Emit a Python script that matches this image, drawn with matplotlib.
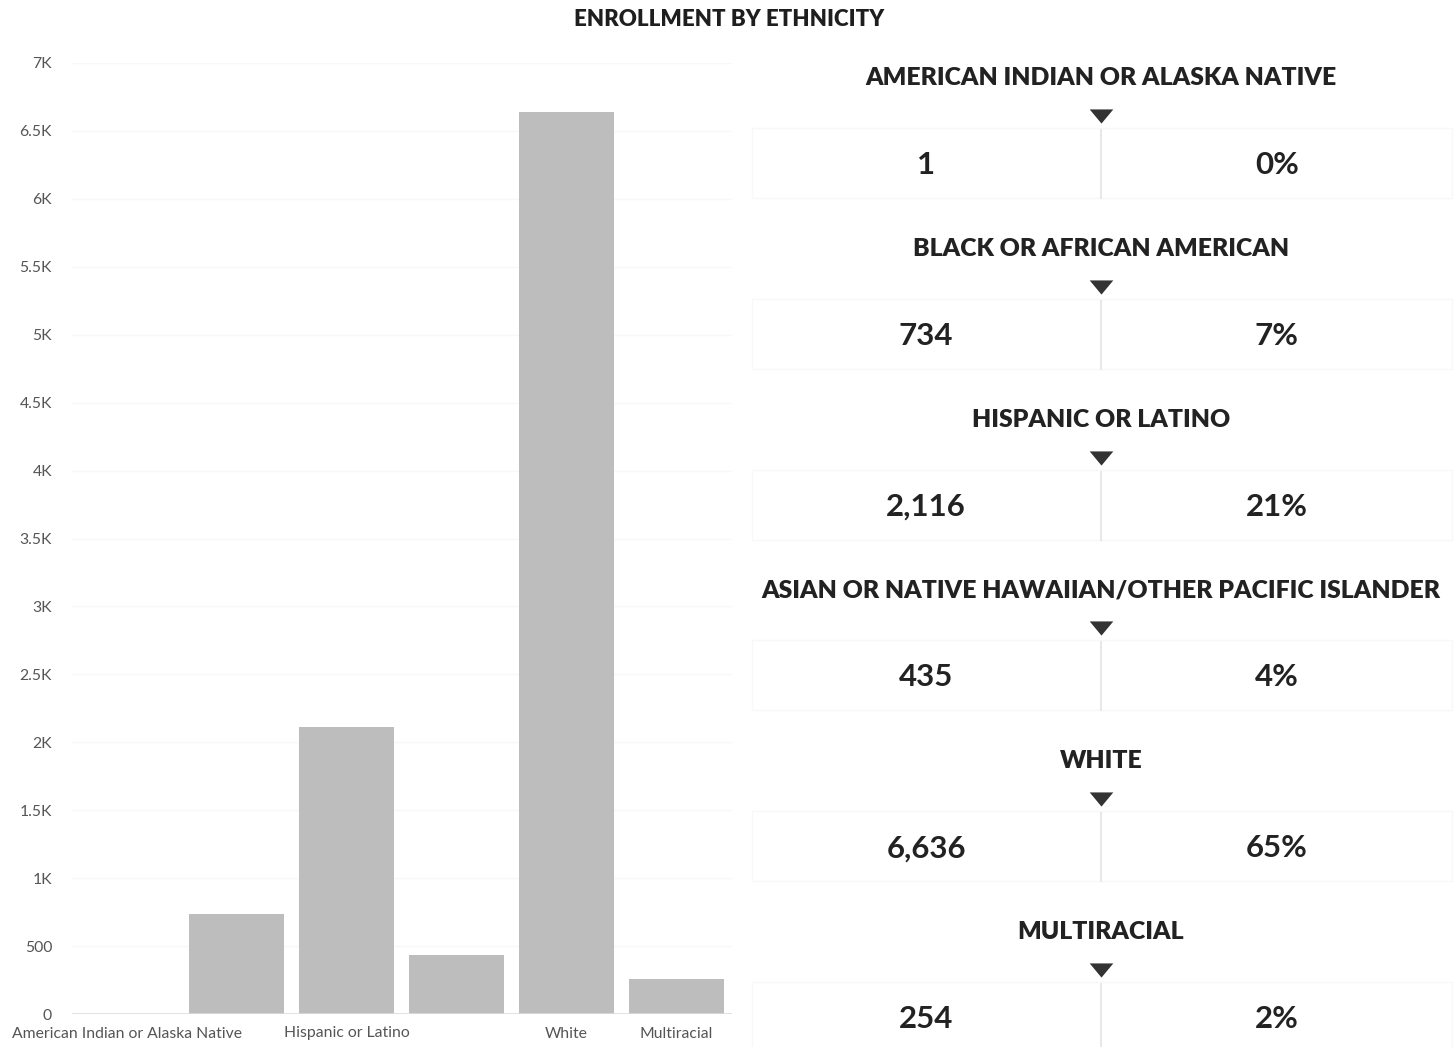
import numpy as np
import matplotlib.pyplot as plt
from matplotlib.ticker import FuncFormatter
from matplotlib.patches import Rectangle

# data
groups = ['American Indian or Alaska Native', 'Black or African American', 'Hispanic or Latino',
          'Asian or Native Hawaiian/Other Pacific Islander', 'White', 'Multiracial']
enrollment = [1, 734, 2116, 435, 6636, 254]
shown_labels = [0, 2, 4, 5]  # the others are hidden in the original (no room)

plt.rcParams['font.family'] = ['Lato', 'DejaVu Sans']

W, H = 1455, 1047
fig = plt.figure(figsize=(W / 100, H / 100), dpi=100)

# --- left: bar chart ---
ax = fig.add_axes([71.5 / W, 33 / H, 660 / W, 951 / H])
x = np.arange(len(groups))
ax.bar(x, enrollment, width=0.865, color='#bdbdbd', zorder=2)
ax.set_xlim(-0.5, len(groups) - 0.5)
ax.set_ylim(0, 7000)
ax.set_yticks(np.arange(0, 7001, 500))
ax.yaxis.set_major_formatter(FuncFormatter(
    lambda v, p: '0' if v == 0 else ('%gK' % (v / 1000) if v >= 1000 else '%d' % v)))
ax.set_xticks(x[shown_labels])
ax.set_xticklabels([groups[i] for i in shown_labels])
ax.tick_params(length=0, labelsize=11.3, labelcolor='#555555')
ax.tick_params(axis='y', pad=14)
ax.tick_params(axis='x', pad=9)
for s in ax.spines.values():
    s.set_visible(False)
ax.grid(axis='y', color='#f8f8f8', lw=1, zorder=0)
ax.axhline(0, color='#dcdcdc', lw=1.2, zorder=3)

fig.text(729 / W, 1 - 20 / H, 'ENROLLMENT BY ETHNICITY', ha='center', va='center',
         fontsize=16, fontweight='heavy', color='#1e1e1e')

# --- right: summary cards ---
rx = fig.add_axes([750 / W, 0, 705 / W, 1])
rx.set_xlim(750, W)
rx.set_ylim(H, 0)
rx.axis('off')

tri = [(-1, 0.6), (1, 0.6), (0, -0.6), (-1, 0.6)]
total = sum(enrollment)
pitch = 170.8
for i, (g, n) in enumerate(zip(groups, enrollment)):
    y0 = 78 + i * pitch
    rx.text(1101, y0, g.upper(), ha='center', va='center', fontsize=17.8,
            fontweight='heavy', color='#222222')
    rx.plot(1101, y0 + 38, marker=tri, ms=17, color='#333333', mec='#333333', mew=0)
    rx.add_patch(Rectangle((752, y0 + 50), 700, 70, fill=False, ec='#f8f8f8', lw=1))
    rx.plot([1101, 1101], [y0 + 52, y0 + 120], color='#e8e8e8', lw=1.5)
    rx.text(926, y0 + 87, '{:,}'.format(n), ha='center', va='center', fontsize=22.5,
            fontweight='bold', color='#222222')
    rx.text(1277, y0 + 87, '%d%%' % round(100 * n / total), ha='center', va='center',
            fontsize=22.5, fontweight='bold', color='#222222')

fig.savefig('out.png', dpi=100, facecolor='white')
